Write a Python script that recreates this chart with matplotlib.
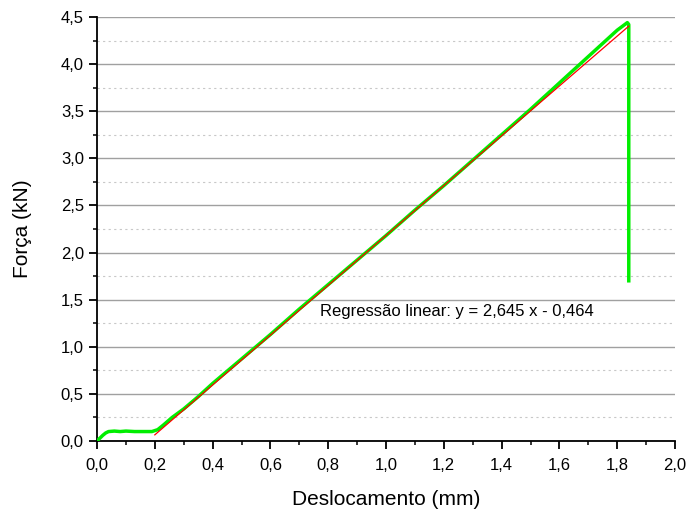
import matplotlib
matplotlib.use("Agg")
import matplotlib.pyplot as plt
import numpy as np
from matplotlib.ticker import MultipleLocator, FuncFormatter

plt.rcParams['font.family'] = ['Liberation Sans', 'DejaVu Sans']

disp = [0.0, 0.01, 0.02, 0.03, 0.04, 0.06, 0.08, 0.10, 0.13, 0.16, 0.19, 0.21, 0.23,
        0.26, 0.30, 0.35, 0.40, 0.45, 0.50, 0.55, 0.60, 0.70, 0.80, 0.90, 1.00,
        1.10, 1.20, 1.30, 1.40, 1.50, 1.60, 1.70, 1.80, 1.835, 1.84, 1.84]
force = [0.0, 0.03, 0.06, 0.085, 0.10, 0.105, 0.10, 0.105, 0.10, 0.10, 0.10, 0.12, 0.17,
         0.25, 0.34, 0.47, 0.61, 0.74, 0.87, 1.00, 1.13, 1.40, 1.66, 1.92, 2.18,
         2.45, 2.71, 2.98, 3.25, 3.52, 3.80, 4.08, 4.36, 4.44, 4.42, 1.70]

# Linear regression
slope = 2.645
intercept = -0.464
fit_x = [0.2, 1.84]

fig = plt.figure(figsize=(6.89, 5.13), dpi=100)
ax = fig.add_axes([0.1408, 0.1404, 0.9797 - 0.1408, 0.9669 - 0.1404])

ax.yaxis.grid(True, which='major', color='#a0a0a0', linewidth=1.0, linestyle='-')
ax.yaxis.grid(True, which='minor', color='#c8c8c8', linewidth=0.8, linestyle=(0, (2, 3)))
ax.set_axisbelow(True)

ax.plot(disp, force, color='#00ee00', linewidth=2.5, zorder=3)
fx = np.array(fit_x)
ax.plot(fx, slope * fx + intercept, color='#ff0000', linewidth=0.9, zorder=4)

ax.set_xlim(0, 2.0)
ax.set_ylim(0, 4.5)
ax.xaxis.set_major_locator(MultipleLocator(0.2))
ax.xaxis.set_minor_locator(MultipleLocator(0.1))
ax.yaxis.set_major_locator(MultipleLocator(0.5))
ax.yaxis.set_minor_locator(MultipleLocator(0.25))
ax.xaxis.set_major_formatter(FuncFormatter(lambda v, p: f"{v:.1f}".replace('.', ',')))
ax.yaxis.set_major_formatter(FuncFormatter(lambda v, p: f"{v:.1f}".replace('.', ',')))

for s in ['top', 'right']:
    ax.spines[s].set_visible(False)
for s in ['left', 'bottom']:
    ax.spines[s].set_linewidth(1.3)

ax.tick_params(which='major', direction='out', length=5.5, width=1.3, labelsize=12)
ax.tick_params(axis='x', which='major', pad=7)
ax.tick_params(axis='y', which='major', pad=4)
ax.tick_params(which='minor', direction='out', length=3, width=1.1)

ax.set_xlabel('Deslocamento (mm)', fontsize=15)
ax.set_ylabel('Força (kN)', fontsize=15)
ax.xaxis.set_label_coords(0.5, -0.116)
ax.yaxis.set_label_coords(-0.112, 0.5)

ax.text(0.77, 1.37, 'Regressão linear: y = 2,645 x - 0,464', fontsize=12,
        va='center', ha='left')

fig.savefig('out.png', dpi=100)
